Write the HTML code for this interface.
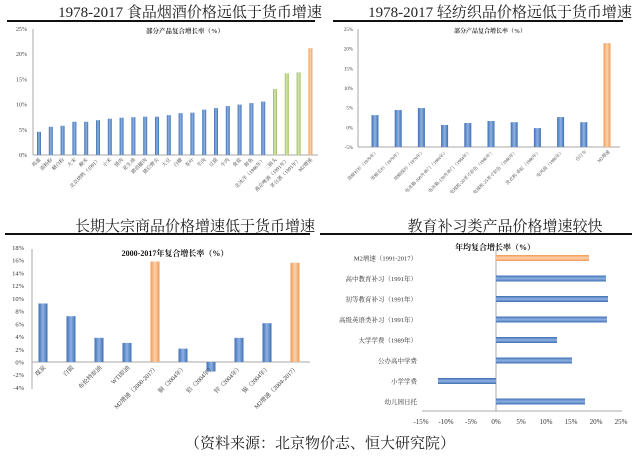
<!DOCTYPE html>
<html><head><meta charset="utf-8"><style>
body{margin:0;background:#fff;width:640px;height:458px;overflow:hidden;font-family:"Liberation Serif","Noto Serif CJK SC",serif}
svg{position:absolute;left:0;top:0}
</style></head><body>
<svg id="s" width="640" height="458" viewBox="0 0 640 458">
<defs>
<linearGradient id="gb" x1="0" x2="1"><stop offset="0" stop-color="#3e6fb3"/><stop offset="0.5" stop-color="#8fb2e3"/><stop offset="1" stop-color="#3e6fb3"/></linearGradient>
<linearGradient id="go" x1="0" x2="1"><stop offset="0" stop-color="#f29a55"/><stop offset="0.5" stop-color="#fcd2ad"/><stop offset="1" stop-color="#f29a55"/></linearGradient>
<linearGradient id="gg" x1="0" x2="1"><stop offset="0" stop-color="#9cbb55"/><stop offset="0.5" stop-color="#d9e8b5"/><stop offset="1" stop-color="#9cbb55"/></linearGradient>
<linearGradient id="gbh" x1="0" x2="0" y1="0" y2="1"><stop offset="0" stop-color="#3e6fb3"/><stop offset="0.5" stop-color="#8fb2e3"/><stop offset="1" stop-color="#3e6fb3"/></linearGradient>
<linearGradient id="goh" x1="0" x2="0" y1="0" y2="1"><stop offset="0" stop-color="#f29a55"/><stop offset="0.5" stop-color="#fcd2ad"/><stop offset="1" stop-color="#f29a55"/></linearGradient>
</defs>
<text x="190" y="17" text-anchor="middle" font-size="15" fill="#222">1978-2017 食品烟酒价格远低于货币增速</text>
<line x1="7" y1="21" x2="315" y2="21" stroke="#111" stroke-width="2"/>
<text x="500" y="17" text-anchor="middle" font-size="15" fill="#222">1978-2017 轻纺织品价格远低于货币增速</text>
<line x1="333" y1="21" x2="623" y2="21" stroke="#111" stroke-width="2"/>
<text x="195" y="231" text-anchor="middle" font-size="15" fill="#222">长期大宗商品价格增速低于货币增速</text>
<line x1="5" y1="234" x2="310" y2="234" stroke="#111" stroke-width="2"/>
<text x="505" y="231" text-anchor="middle" font-size="15" fill="#222">教育补习类产品价格增速较快</text>
<line x1="320" y1="234" x2="632" y2="234" stroke="#111" stroke-width="2"/>
<text x="320" y="448" text-anchor="middle" font-size="15" fill="#222">（资料来源：北京物价志、恒大研究院）</text>
<text x="185" y="33" text-anchor="middle" font-size="6.5" font-weight="bold" fill="#333">部分产品复合增长率（%）</text>
<text x="490" y="33" text-anchor="middle" font-size="6" font-weight="bold" fill="#333">部分产品复合增长率（%）</text>
<text x="175" y="256" text-anchor="middle" font-size="8" font-weight="bold" fill="#111">2000-2017年复合增长率（%）</text>
<text x="495" y="250" text-anchor="middle" font-size="8" font-weight="bold" fill="#111">年均复合增长率（%）</text>
</svg>
<script>
const foodCats=["鸡蛋","面粉粉","精白粉","大米","粳米","北京烤鸭（1991）","小米","猪肉","花生油","猪前腿肉","猪后臀尖","大豆","白糖","茶叶","羊肉","豆腐","牛肉","食盐","鲜鱼","北冰洋（1986年）","二锅头","燕京啤酒（1991年）","茅台酒（1991年）","M2增速"];
const foodVals=[4.6,5.6,5.8,6.6,6.6,6.9,7.2,7.4,7.5,7.6,7.6,7.9,8.3,8.4,9.0,9.3,9.7,10.0,10.3,10.6,13.1,16.2,16.4,21.2];
const foodTypes=["b","b","b","b","b","b","b","b","b","b","b","b","b","b","b","b","b","b","b","b","g","g","g","o"];
const foodTicks=[0,5,10,15,20,25];
const texCats=["涤棉衬衫（1979年）","男棉毛衫（1979年）","纯棉线衫（1979年）","电冰箱-100升单门（1984年）","电冰箱-130升单门（1984年）","电视机-20英寸彩色（1986年）","电视机-25英寸彩色（1986年）","洗衣机-单缸（1986年）","电风扇（1986年）","自行车","M2增速"];
const texVals=[3.1,4.4,4.9,0.6,1.1,1.6,1.3,-0.2,2.6,1.3,21.4];
const texTicks=[-5,0,5,10,15,20,25];
const comCats=["煤炭","白银","布伦特原油","WTI原油","M2增速（2000-2017）","铜（2004年）","铝（2004年）","锌（2004年）","锡（2004年）","M2增速（2004-2017）"];
const comVals=[9.2,7.2,3.8,3.0,15.8,2.1,-1.5,3.8,6.1,15.6];
const comTicks=[-4,-2,0,2,4,6,8,10,12,14,16,18];
const eduCats=["M2增速（1991-2017）","高中教育补习（1991年）","初等教育补习（1991年）","高级英语类补习（1991年）","大学学费（1989年）","公办高中学费","小学学费","幼儿园日托"];
const eduVals=[18.6,22.0,22.4,22.2,12.2,15.2,-11.6,17.8];
const eduTicks=[-15,-10,-5,0,5,10,15,20,25];

const NS="http://www.w3.org/2000/svg",S=document.getElementById('s');
function mk(t,a,txt){const e=document.createElementNS(NS,t);for(const k in a)e.setAttribute(k,a[k]);if(txt!=null)e.textContent=txt;S.appendChild(e);return e;}
const F='"Liberation Serif","Noto Serif CJK SC",serif';

// food
{const y=v=>155-(v/25)*126, x=i=>39+i*11.8;
mk('line',{x1:33,y1:29,x2:33,y2:155,stroke:'#aaa'});
mk('line',{x1:33,y1:155,x2:318,y2:155,stroke:'#aaa'});
foodTicks.forEach(t=>{const e=mk('text',{x:27,y:y(t)+2,'text-anchor':'end','font-size':6,fill:'#444'},t+'%');

});
foodVals.forEach((v,i)=>{const f=foodTypes[i]=='b'?'url(#gb)':foodTypes[i]=='g'?'url(#gg)':'url(#go)';
const r=mk('rect',{x:x(i)-2,y:y(v),width:4,height:155-y(v),fill:f});


const l=mk('text',{x:x(i)+2,y:160,'text-anchor':'end','font-size':5,fill:'#444',transform:`rotate(-45 ${x(i)+2} 160)`},foodCats[i]);

});}

// textile
{const y=v=>147-((v+5)/30)*118, x=i=>375+i*23.2;
mk('line',{x1:358,y1:29,x2:358,y2:147,stroke:'#aaa'});
mk('line',{x1:358,y1:147,x2:620,y2:147,stroke:'#aaa'});
texTicks.forEach(t=>{const e=mk('text',{x:353,y:y(t)+2,'text-anchor':'end','font-size':5,fill:'#444'},t+'%');

});
texVals.forEach((v,i)=>{const r=mk('rect',{x:x(i)-3.5,y:y(v),width:7,height:147-y(v),fill:i==texVals.length-1?'url(#go)':'url(#gb)'});


const l=mk('text',{x:x(i)+3,y:152,'text-anchor':'end','font-size':4.5,fill:'#444',transform:`rotate(-45 ${x(i)+3} 152)`},texCats[i]);

});}

// commodity
{const y=v=>362-v*6.36, x=i=>43+i*28;
mk('line',{x1:32,y1:249,x2:32,y2:389,stroke:'#aaa'});
mk('line',{x1:32,y1:362,x2:310,y2:362,stroke:'#aaa'});
comTicks.forEach(t=>{const e=mk('text',{x:24,y:y(t)+2.5,'text-anchor':'end','font-size':6.5,fill:'#333'},t+'%');

});
comVals.forEach((v,i)=>{const o=comCats[i].startsWith('M2');const r=mk('rect',{x:x(i)-4.5,y:Math.min(y(v),362),width:9,height:Math.abs(y(v)-362),fill:o?'url(#go)':'url(#gb)'});


const l=mk('text',{x:x(i)+3,y:368,'text-anchor':'end','font-size':6,fill:'#333',transform:`rotate(-45 ${x(i)+3} 368)`},comCats[i]);

});}

// education
{const x=v=>496+v*5, y=i=>258+i*20.5;
mk('line',{x1:422,y1:411,x2:622,y2:411,stroke:'#aaa'});
mk('line',{x1:496,y1:250,x2:496,y2:411,stroke:'#aaa'});
eduTicks.forEach(t=>{const e=mk('text',{x:x(t),y:424,'text-anchor':'middle','font-size':7,fill:'#333'},t+'%');

});
eduVals.forEach((v,i)=>{const r=mk('rect',{x:Math.min(x(v),496),y:y(i)-3,width:Math.abs(x(v)-496),height:6,fill:i==0?'url(#goh)':'url(#gbh)'});


const l=mk('text',{x:417,y:y(i)+2.5,'text-anchor':'end','font-size':6.5,fill:'#333'},eduCats[i]);

});}
</script>
</body></html>
